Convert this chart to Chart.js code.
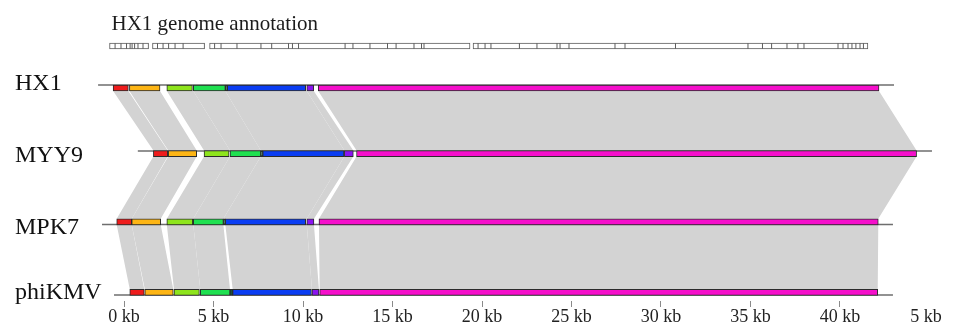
<!DOCTYPE html>
<html>
<head>
<meta charset="utf-8">
<title>HX1 genome comparison</title>
<script src="https://cdn.jsdelivr.net/npm/chart.js@4.4.1/dist/chart.umd.min.js"></script>
<style>
  html, body { margin: 0; padding: 0; background: #fff; }
  #wrap { width: 959px; height: 327px; position: relative; }
</style>
</head>
<body>
<div id="wrap"><canvas id="chart"></canvas></div>
<script>
// genomes top to bottom, every position in kb on the shared ruler
const genomes = ['HX1', 'MYY9', 'MPK7', 'phiKMV'];

// coloured collinear blocks [start, end], same order in every genome
const hx1Blocks    = [[-0.61, 0.24], [0.30, 2.01], [2.39, 3.82], [3.87, 5.66], [5.66, 5.77], [5.77, 10.15], [10.21, 10.60], [10.85, 42.18]];
const myy9Blocks   = [[1.64, 2.44], [2.47, 4.06], [4.47, 5.87], [5.92, 7.64], [7.64, 7.75], [7.75, 12.29], [12.31, 12.81], [12.99, 44.28]];
const mpk7Blocks   = [[-0.41, 0.43], [0.43, 2.05], [2.39, 3.84], [3.87, 5.55], [5.55, 5.66], [5.66, 10.15], [10.21, 10.61], [10.89, 42.14]];
const phikmvBlocks = [[0.32, 1.13], [1.16, 2.75], [2.79, 4.21], [4.26, 5.92], [5.92, 6.07], [6.07, 10.47], [10.50, 10.89], [10.93, 42.11]];
const blockColors  = ['#ee1c1c', '#fdb515', '#8ee41c', '#1fe050', '#14553a', '#0a3df2', '#8a14f0', '#f50fcb'];

// backbone line of each genome [start, end]
const backbones = [[-1.45, 43.02], [0.77, 45.14], [-1.23, 42.96], [-0.56, 42.96]];

// similarity links between neighbours: [upperStart, upperEnd, lowerStart, lowerEnd]
const hx1ToMyy9 = [
  [-0.61, 0.24, 1.64, 2.44], [0.30, 2.01, 2.47, 4.06], [2.39, 3.87, 4.47, 5.92], [3.87, 5.66, 5.92, 7.64],
  [5.66, 10.21, 7.64, 12.31], [10.21, 10.60, 12.31, 12.81], [10.85, 42.18, 12.99, 44.28]
];
const myy9ToMpk7 = [
  [1.64, 2.44, -0.41, 0.43], [2.47, 4.06, 0.43, 2.05], [4.47, 5.92, 2.39, 3.87], [5.92, 7.64, 3.87, 5.55],
  [7.64, 12.31, 5.55, 10.21], [12.31, 12.81, 10.21, 10.61], [12.99, 44.28, 10.89, 42.14]
];
const mpk7ToPhikmv = [
  [-0.41, 0.43, 0.32, 1.13], [0.43, 2.05, 1.16, 2.75], [2.39, 3.87, 2.79, 4.26], [3.87, 5.55, 4.26, 5.92],
  [5.66, 10.21, 6.07, 10.50], [10.21, 10.61, 10.50, 10.89], [10.89, 42.14, 10.93, 42.11]
];

// HX1 annotation: runs of touching CDS boxes, listed as their boundaries
const annotRuns = [
  [-0.81, -0.50, -0.17, 0.14, 0.34, 0.45, 0.59, 0.78, 1.06, 1.37],
  [1.59, 1.87, 2.18, 2.49, 2.85, 3.30, 4.50],
  [4.78, 5.06, 5.42, 6.31, 7.65, 8.25, 9.19, 9.41, 9.75, 12.35, 12.79, 13.74, 14.72, 15.20, 16.20, 16.62, 16.76, 19.33],
  [19.50, 19.78, 20.17, 20.50, 22.09, 23.07, 24.19, 24.36, 24.86, 27.43, 27.99, 30.81, 34.86, 35.67, 36.18, 37.04,
   37.65, 37.99, 39.89, 40.17, 40.45, 40.67, 40.89, 41.12, 41.31, 41.56]
];

const tickKb = [0, 5, 10, 15, 20, 25, 30, 35, 40, 44.8];
const tickLabels = ['0 kb', '5 kb', '10 kb', '15 kb', '20 kb', '25 kb', '30 kb', '35 kb', '40 kb', '5 kb'];
const titleText = 'HX1 genome annotation';

// layout (y axis runs top-down in px-like units)
const X_MIN = -6.93, X_MAX = 46.65;
const Y_MAX = 301;
const trackTop = [85, 150.6, 218.8, 289.3];
const barH = 6;
const backboneY = [85, 151, 224.5, 295];
const labelBase = [90, 161.5, 234, 299];
const annotY = 46, annotH = 5.6, titleBase = 29.5;
const serif = '"Times New Roman", "Liberation Serif", serif';

const allBlocks = [hx1Blocks, myy9Blocks, mpk7Blocks, phikmvBlocks];
const allLinks = [hx1ToMyy9, myy9ToMpk7, mpk7ToPhikmv];

// closed quadrilateral for a link; starts on the leftmost corner and ends on the
// rightmost one so the filler's x clip covers the whole shape
function linkShape(link, upper) {
  const [us, ue, ls, le] = link;
  const yU = trackTop[upper] + barH, yL = trackTop[upper + 1];
  const ring = [{x: us, y: yU}, {x: ue, y: yU}, {x: le, y: yL}, {x: ls, y: yL}];
  let li = 0, ri = 0;
  ring.forEach((p, i) => { if (p.x < ring[li].x) li = i; if (p.x > ring[ri].x) ri = i; });
  const pts = [];
  for (let k = 0; k <= 4; k++) pts.push(ring[(li + k) % 4]);
  pts.push(ring[ri]);
  return pts;
}

const datasets = [];

allLinks.forEach((links, upper) => {
  links.forEach(link => {
    datasets.push({
      type: 'line', data: linkShape(link, upper), order: 5,
      backgroundColor: '#d3d3d3', borderWidth: 0, fill: 'shape',
      pointRadius: 0, pointHoverRadius: 0, tension: 0
    });
  });
});

backbones.forEach((b, i) => {
  datasets.push({
    type: 'line', data: [{x: b[0], y: backboneY[i]}, {x: b[1], y: backboneY[i]}], order: 4,
    borderColor: '#6e6e6e', borderWidth: 1.4, pointRadius: 0, pointHoverRadius: 0, fill: false
  });
});

blockColors.forEach((color, k) => {
  datasets.push({
    type: 'bar', indexAxis: 'y', grouped: false, order: 2,
    data: genomes.map((g, i) => ({x: allBlocks[i][k], y: trackTop[i] + barH / 2})),
    backgroundColor: color, borderColor: '#2b2b2b', borderWidth: 1, borderSkipped: false,
    barThickness: barH
  });
});

datasets.push({
  type: 'bar', indexAxis: 'y', grouped: false, order: 1,
  data: annotRuns.map(r => ({x: [r[0], r[r.length - 1]], y: annotY})),
  backgroundColor: '#ffffff', borderColor: '#5c5c5c', borderWidth: 1, borderSkipped: false,
  barThickness: annotH
});

datasets.push({
  type: 'scatter', order: 0,
  data: annotRuns.flatMap(r => r.slice(1, -1).map(v => ({x: v, y: annotY}))),
  pointStyle: 'line', rotation: 90, pointRadius: annotH / 2, pointHoverRadius: annotH / 2,
  borderColor: '#5c5c5c', borderWidth: 1
});

const textPlugin = {
  id: 'genomeText',
  afterDraw(chart) {
    const {ctx, scales: {x, y}} = chart;
    ctx.save();
    ctx.textBaseline = 'alphabetic';
    ctx.textAlign = 'left';
    ctx.fillStyle = '#111';
    ctx.font = '24px ' + serif;
    genomes.forEach((g, i) => ctx.fillText(g, 15, y.getPixelForValue(labelBase[i])));
    ctx.fillStyle = '#1c1c1c';
    ctx.font = '21px ' + serif;
    ctx.fillText(titleText, x.getPixelForValue(annotRuns[0][0]) + 2, y.getPixelForValue(titleBase));
    ctx.restore();
  }
};

new Chart(document.getElementById('chart'), {
  type: 'line',
  data: { datasets },
  options: {
    responsive: true,
    maintainAspectRatio: false,
    animation: false,
    events: [],
    layout: { padding: 0, autoPadding: false },
    plugins: { legend: { display: false }, tooltip: { enabled: false } },
    scales: {
      x: {
        type: 'linear', min: X_MIN, max: X_MAX, offset: false,
        afterBuildTicks: axis => { axis.ticks = tickKb.map(v => ({value: v})); },
        grid: {
          drawOnChartArea: false, tickLength: 6,
          tickColor: ctx => ctx.index === tickKb.length - 1 ? 'rgba(0,0,0,0)' : '#8a8a8a'
        },
        border: { display: false },
        ticks: {
          autoSkip: false, maxRotation: 0, padding: 1, color: '#222',
          font: { family: serif, size: 18, lineHeight: 1 },
          callback: (v, i) => tickLabels[i]
        }
      },
      y: {
        type: 'linear', min: 0, max: Y_MAX, reverse: true, offset: false, display: false
      }
    }
  },
  plugins: [textPlugin]
});
</script>
</body>
</html>
